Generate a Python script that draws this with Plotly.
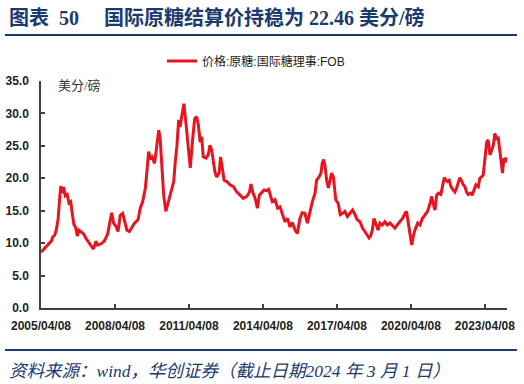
import plotly.graph_objects as go
from datetime import datetime, timedelta

# decimal-year positions
years = [
    2005.266, 2005.42, 2005.55, 2005.69, 2005.75, 2005.82, 2005.89, 2005.96,
    2006.03, 2006.07, 2006.12, 2006.19, 2006.25, 2006.33, 2006.40, 2006.47,
    2006.54, 2006.60, 2006.67, 2006.74, 2006.80, 2006.90, 2007.00, 2007.10,
    2007.19, 2007.30, 2007.39, 2007.50, 2007.56, 2007.70, 2007.83, 2007.97,
    2008.08, 2008.13, 2008.21, 2008.31, 2008.39, 2008.48, 2008.58, 2008.66,
    2008.75, 2008.85, 2008.96, 2009.06, 2009.20, 2009.29, 2009.39, 2009.50,
    2009.56, 2009.63, 2009.70, 2009.77, 2009.87, 2009.97, 2010.04, 2010.10,
    2010.17, 2010.24, 2010.33, 2010.44, 2010.55, 2010.65, 2010.71, 2010.78,
    2010.85, 2010.91, 2010.98, 2011.06, 2011.14, 2011.23, 2011.32, 2011.42,
    2011.50, 2011.58, 2011.65, 2011.72, 2011.78, 2011.85, 2011.96, 2012.05,
    2012.12, 2012.19, 2012.26, 2012.32, 2012.39, 2012.49, 2012.55, 2012.62,
    2012.69, 2012.80, 2012.93, 2013.07, 2013.20, 2013.34, 2013.47, 2013.61,
    2013.72, 2013.78, 2013.85, 2013.95, 2014.04, 2014.12, 2014.22, 2014.31,
    2014.42, 2014.50, 2014.58, 2014.65, 2014.76, 2014.86, 2014.96, 2015.05,
    2015.16, 2015.27, 2015.36, 2015.46, 2015.57, 2015.66, 2015.77, 2015.86,
    2015.97, 2016.07, 2016.17, 2016.27, 2016.38, 2016.44, 2016.54, 2016.62,
    2016.67, 2016.73, 2016.78, 2016.85, 2016.92, 2016.99, 2017.05, 2017.12,
    2017.22, 2017.32, 2017.40, 2017.50, 2017.59, 2017.69, 2017.80, 2017.90,
    2018.00, 2018.09, 2018.20, 2018.31, 2018.40, 2018.47, 2018.57, 2018.63,
    2018.70, 2018.77, 2018.85, 2018.94, 2019.01, 2019.11, 2019.21, 2019.31,
    2019.42, 2019.52, 2019.62, 2019.71, 2019.82, 2019.93, 2020.03, 2020.09,
    2020.16, 2020.23, 2020.30, 2020.36, 2020.43, 2020.54, 2020.63, 2020.73,
    2020.84, 2020.94, 2021.04, 2021.11, 2021.17, 2021.24, 2021.31, 2021.38,
    2021.48, 2021.54, 2021.62, 2021.69, 2021.75, 2021.82, 2021.89, 2021.98,
    2022.05, 2022.12, 2022.19, 2022.25, 2022.32, 2022.39, 2022.46, 2022.52,
    2022.59, 2022.69, 2022.75, 2022.84, 2022.90, 2023.00, 2023.06, 2023.13,
    2023.20, 2023.27, 2023.34, 2023.40, 2023.47, 2023.54, 2023.61, 2023.67,
    2023.74, 2023.81, 2023.88, 2023.94, 2023.98, 2024.04, 2024.08, 2024.12,
    2024.164,
]

# ICE raw sugar FOB price, US cents/lb
prices = [
    8.6, 9.2, 9.85, 10.35, 11.0, 11.2, 12.1, 13.7,
    17.2, 18.8, 17.7, 18.6, 17.3, 17.5, 16.2, 16.4,
    14.4, 12.9, 12.4, 11.1, 12.0, 11.7, 11.4, 10.7,
    10.2, 9.5, 9.1, 10.3, 9.7, 9.9, 10.3, 11.4,
    13.4, 14.7, 13.1, 12.6, 11.8, 14.3, 14.6, 13.3,
    12.0, 11.8, 12.5, 13.1, 13.6, 15.4, 16.4, 18.5,
    21.0, 24.1, 23.1, 23.3, 22.3, 25.1, 27.4, 26.1,
    21.0, 17.4, 14.9, 16.4, 17.9, 19.5, 22.5, 25.1,
    29.0, 27.9, 29.7, 31.5, 28.7, 25.6, 21.6, 26.1,
    29.2, 29.5, 28.2, 25.6, 26.4, 23.3, 23.1, 23.6,
    25.1, 24.3, 22.8, 21.0, 20.2, 20.8, 23.3, 21.8,
    19.7, 19.5, 19.0, 18.7, 17.9, 17.4, 16.9, 17.2,
    17.9, 19.1, 17.9, 16.9, 15.4, 17.4, 17.9, 18.2,
    18.1, 18.3, 17.2, 16.4, 16.7, 15.4, 15.6, 14.6,
    13.3, 13.8, 12.5, 13.2, 12.0, 11.5, 13.8, 14.7,
    14.6, 13.1, 14.9, 16.4, 17.7, 19.7, 20.2, 20.8,
    22.3, 22.9, 22.0, 19.7, 18.5, 19.7, 20.8, 20.2,
    16.7, 16.1, 14.4, 14.6, 14.9, 14.1, 14.6, 15.1,
    14.4, 13.6, 13.3, 12.3, 11.8, 11.3, 10.8, 11.1,
    12.0, 13.8, 12.8, 12.0, 13.1, 12.8, 13.3, 12.8,
    13.1, 12.6, 12.3, 12.8, 13.3, 13.8, 14.6, 14.9,
    13.1, 11.0, 9.7, 11.0, 12.0, 13.1, 12.8, 13.8,
    14.4, 14.9, 16.1, 17.2, 16.1, 15.1, 17.4, 17.7,
    17.5, 18.5, 20.1, 19.7, 19.5, 19.7, 18.7, 18.2,
    17.9, 18.5, 19.5, 20.1, 19.6, 19.0, 18.7, 17.9,
    17.5, 17.7, 17.4, 18.2, 19.0, 18.7, 20.0, 20.2,
    20.5, 23.1, 25.6, 25.9, 23.6, 24.3, 25.1, 26.9,
    26.1, 26.2, 24.3, 22.0, 20.8, 23.1, 22.5, 23.2,
    22.46,
]

tick_dates = ["2005-04-08", "2008-04-08", "2011-04-08", "2014-04-08",
              "2017-04-08", "2020-04-08", "2023-04-08"]
tick_text = ["2005/04/08", "2008/04/08", "2011/04/08", "2014/04/08",
             "2017/04/08", "2020/04/08", "2023/04/08"]

series_name = "价格:原糖:国际糖理事:FOB"
title_text = "图表  50　 国际原糖结算价持稳为 22.46 美分/磅"
unit_text = "美分/磅"
source_text = "资料来源：wind，华创证券（截止日期2024 年 3 月 1 日）"


def to_date(y):
    yr = int(y)
    start = datetime(yr, 1, 1)
    ndays = (datetime(yr + 1, 1, 1) - start).days
    return start + timedelta(days=round((y - yr) * ndays))


dates = [to_date(y) for y in years]

W, H = 524, 384
L, R, T, B = 41, 17, 81, 76
pw, ph = W - L - R, H - T - B


def px(x):
    return (x - L) / pw


def py(y):
    return 1 - (y - T) / ph


NAVY = "#1b3a6e"
CJK_SERIF = "Liberation Serif, Noto Sans CJK SC"

fig = go.Figure()
fig.add_trace(go.Scatter(
    x=dates, y=prices, mode="lines", name=series_name,
    line=dict(color="#e8141f", width=3),
))

fig.update_layout(
    width=W, height=H,
    margin=dict(l=L, r=R, t=T, b=B, autoexpand=False),
    paper_bgcolor="white", plot_bgcolor="white",
    showlegend=True,
    legend=dict(
        x=px(162), y=py(61), xanchor="left", yanchor="middle",
        bgcolor="rgba(0,0,0,0)",
        font=dict(family="Liberation Sans, Noto Sans CJK SC", size=12, color="#222"),
    ),
    xaxis=dict(
        type="date", range=["2005-04-08", "2024-03-01"],
        tickvals=tick_dates, ticktext=tick_text,
        showgrid=False, zeroline=False, automargin=False,
        showline=True, linecolor="#404040", linewidth=1.5,
        ticks="inside", ticklen=4, tickcolor="#404040", tickwidth=1.5,
        tickfont=dict(family="Liberation Sans", size=12, color="#222", weight="bold"),
        ticklabelstandoff=6,
    ),
    yaxis=dict(
        range=[0, 35], dtick=5, tickformat=".1f",
        showgrid=False, zeroline=False, automargin=False,
        showline=True, linecolor="#404040", linewidth=1.5,
        ticks="inside", ticklen=4, tickcolor="#404040", tickwidth=1.5,
        tickfont=dict(family="Liberation Sans", size=12, color="#222", weight="bold"),
        ticklabelstandoff=8,
    ),
    annotations=[
        dict(text=title_text, xref="paper", yref="paper", x=px(7), y=py(17),
             xanchor="left", yanchor="middle", showarrow=False,
             font=dict(family=CJK_SERIF, size=20, color=NAVY, weight="bold")),
        dict(text=unit_text, xref="paper", yref="paper", x=px(56), y=py(86),
             xanchor="left", yanchor="middle", showarrow=False,
             font=dict(family=CJK_SERIF, size=13, color="#333")),
        dict(text=source_text, xref="paper", yref="paper", x=px(7), y=py(371),
             xanchor="left", yanchor="middle", showarrow=False,
             font=dict(family=CJK_SERIF, size=17.5, color=NAVY, style="italic")),
    ],
    shapes=[
        dict(type="line", xref="paper", yref="paper", x0=px(5), x1=px(517),
             y0=py(35), y1=py(35), line=dict(color=NAVY, width=2)),
        dict(type="line", xref="paper", yref="paper", x0=px(5), x1=px(517),
             y0=py(350), y1=py(350), line=dict(color=NAVY, width=2)),
    ],
)

fig.write_html("out.html")
